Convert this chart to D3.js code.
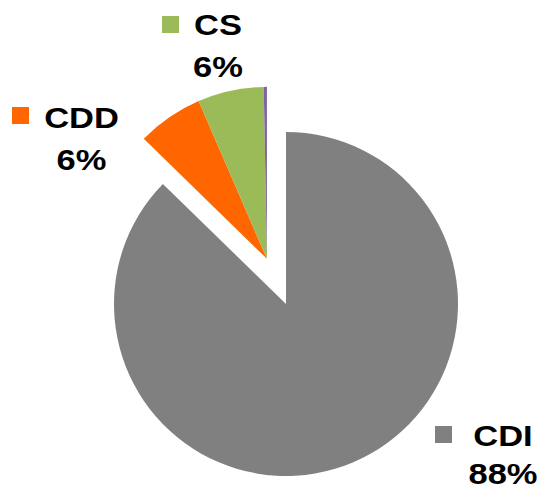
<!DOCTYPE html>
<html>
<head>
<meta charset="utf-8">
<script src="https://cdn.jsdelivr.net/npm/d3@7"></script>
<style>
  html, body { margin: 0; padding: 0; background: #fff; }
  svg { display: block; }
  .lbl { font-family: "Liberation Sans", Arial, sans-serif; font-weight: bold; font-size: 30px; fill: #000; }
</style>
</head>
<body>
<div id="chart"></div>
<script>
// slice data, clockwise from 12 o'clock
var categories = ['CDI', 'CDD', 'CS', 'Other'];
var values = [87.3, 6.2, 6.2, 0.3];
var pctLabels = ['88%', '6%', '6%', ''];
var colors = ['#808080', '#FF6600', '#9BBB59', '#8064A2'];
var exploded = [false, true, true, true];

var width = 543, height = 489;
var cx = 286, cy = 304, radius = 172, explodeDist = 49;

// label layout (name centre x, name baseline, pct baseline, legend square)
var labelPos = {
    CDI: {x: 503, y1: 446, y2: 484, sx: 435, sy: 426},
    CDD: {x: 81.5, y1: 128, y2: 170, sx: 12, sy: 107},
    CS: {x: 218, y1: 35, y2: 77, sx: 162, sy: 16}
};

var svg = d3.select('#chart').append('svg')
    .attr('width', width)
    .attr('height', height);

var pie = d3.pie().sort(null).value(function(d){ return d; });
var arcs = pie(values);
var arc = d3.arc().innerRadius(0).outerRadius(radius);

// one shared offset for the pulled-out group
var grp = arcs.filter(function(d, i){ return exploded[i]; });
var midA = (grp[0].startAngle + grp[grp.length - 1].endAngle) / 2;
var offX = Math.sin(midA) * explodeDist, offY = -Math.cos(midA) * explodeDist;

var g = svg.append('g').attr('transform', 'translate(' + cx + ',' + cy + ')');
g.selectAll('path.slice')
    .data(arcs)
    .enter().append('path')
    .attr('class', 'slice')
    .attr('d', arc)
    .attr('fill', function(d, i){ return colors[i]; })
    .attr('transform', function(d, i){
        return exploded[i] ? 'translate(' + offX + ',' + offY + ')' : null;
    });

// labels
categories.forEach(function(name, i){
    var p = labelPos[name];
    if (!p) return;
    svg.append('rect')
        .attr('x', p.sx).attr('y', p.sy)
        .attr('width', 17).attr('height', 17)
        .attr('fill', colors[i]);
    svg.append('text').attr('class', 'lbl')
        .attr('text-anchor', 'middle')
        .attr('transform', 'translate(' + p.x + ',' + p.y1 + ') scale(1.15,1)')
        .text(name);
    svg.append('text').attr('class', 'lbl')
        .attr('text-anchor', 'middle')
        .attr('transform', 'translate(' + p.x + ',' + p.y2 + ') scale(1.15,1)')
        .text(pctLabels[i]);
});
</script>
</body>
</html>
